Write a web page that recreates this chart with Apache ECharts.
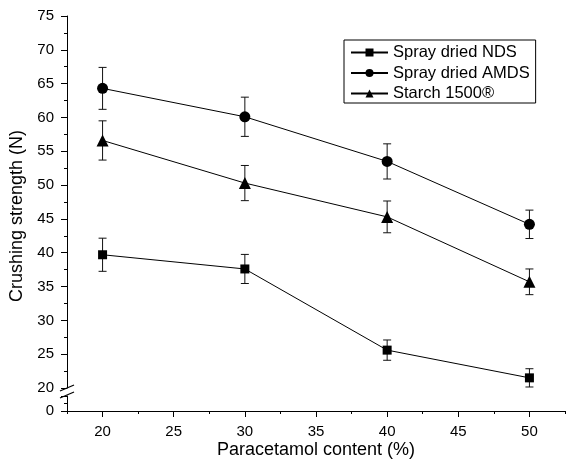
<!DOCTYPE html>
<html>
<head>
<meta charset="utf-8">
<script src="https://cdn.jsdelivr.net/npm/echarts@6/dist/echarts.min.js"></script>
<style>
  html, body { margin: 0; padding: 0; background: #fff; }
  #chart1 { width: 566px; height: 465px; }
</style>
</head>
<body>
<div id="chart1"></div>
<script>
var content = [20, 30, 40, 50];
var ndsVal = [39.7, 37.6, 25.6, 21.5];
var ndsErr = [2.45, 2.15, 1.5, 1.35];
var amdsVal = [64.3, 60.1, 53.5, 44.2];
var amdsErr = [3.1, 2.9, 2.6, 2.1];
var starchVal = [56.6, 50.3, 45.3, 35.7];
var starchErr = [2.9, 2.6, 2.35, 1.9];
var names = ['Spray dried NDS', 'Spray dried AMDS', 'Starch 1500®'];

var font = 'Liberation Sans, Arial, sans-serif';
var black = '#000';

function pts(vals) {
    return content.map(function(x, i) { return [x, vals[i]]; });
}
function bars(vals, errs) {
    return content.map(function(x, i) { return [x, vals[i] - errs[i], vals[i] + errs[i]]; });
}
// 误差棒
function errorSeries(vals, errs) {
    return {
        type: 'custom',
        xAxisIndex: 0,
        yAxisIndex: 0,
        z: 1,
        silent: true,
        renderItem: function(params, api) {
            var x = api.value(0);
            var lo = api.coord([x, api.value(1)]);
            var hi = api.coord([x, api.value(2)]);
            var w = 4;
            var st = { stroke: '#111', lineWidth: 1 };
            return {
                type: 'group',
                children: [
                    { type: 'line', shape: { x1: hi[0], y1: hi[1], x2: lo[0], y2: lo[1] }, style: st },
                    { type: 'line', shape: { x1: hi[0] - w, y1: hi[1], x2: hi[0] + w, y2: hi[1] }, style: st },
                    { type: 'line', shape: { x1: lo[0] - w, y1: lo[1], x2: lo[0] + w, y2: lo[1] }, style: st }
                ]
            };
        },
        data: bars(vals, errs)
    };
}
function lineSeries(name, vals, symbol, size) {
    return {
        name: name,
        type: 'line',
        xAxisIndex: 0,
        yAxisIndex: 0,
        z: 3,
        symbol: symbol,
        symbolSize: size,
        showAllSymbol: true,
        lineStyle: { color: black, width: 1 },
        itemStyle: { color: black, borderWidth: 0 },
        emphasis: { disabled: true },
        data: pts(vals)
    };
}

var option = {
    animation: false,
    textStyle: { fontFamily: font, color: black },
    legend: {
        left: 344,
        top: 40,
        orient: 'vertical',
        itemWidth: 37,
        itemHeight: 10,
        itemGap: 3.5,
        padding: [4, 6, 1, 6],
        borderColor: black,
        borderWidth: 1,
        borderRadius: 0,
        textStyle: { fontFamily: font, fontSize: 16.5, color: black },
        data: names
    },
    grid: [
        { left: 67, right: 1, top: 16, bottom: 77 },
        { left: 67, right: 1, top: 396, bottom: 54 }
    ],
    xAxis: [{
        gridIndex: 0,
        type: 'value',
        min: 17.5,
        max: 52.5,
        show: false
    }, {
        gridIndex: 1,
        type: 'value',
        position: 'bottom',
        min: 17.5,
        max: 52.5,
        splitNumber: 7,
        name: 'Paracetamol content (%)',
        nameLocation: 'middle',
        nameGap: 30,
        nameTextStyle: { fontFamily: font, fontSize: 18, color: black },
        axisLine: { lineStyle: { color: black, width: 1 } },
        axisTick: { show: true, length: 6, lineStyle: { color: black } },
        axisLabel: { fontFamily: font, fontSize: 15, color: black, margin: 13, showMinLabel: false, showMaxLabel: false },
        splitLine: { show: false }
    }, {
        gridIndex: 1,
        type: 'value',
        position: 'bottom',
        min: 17.5,
        max: 52.5,
        interval: 2.5,
        axisLine: { show: false },
        axisTick: { show: true, length: 3, lineStyle: { color: black } },
        axisLabel: { show: false },
        splitLine: { show: false }
    }],
    yAxis: [{
        gridIndex: 0,
        type: 'value',
        min: 20,
        max: 75,
        interval: 5,
        name: 'Crushing strength (N)',
        nameLocation: 'middle',
        nameGap: 40,
        nameTextStyle: { fontFamily: font, fontSize: 18, color: black, padding: [0, 28, 0, 0] },
        axisLine: { show: true, lineStyle: { color: black, width: 1 } },
        axisTick: { show: true, length: 6, lineStyle: { color: black } },
        minorTick: { show: true, splitNumber: 2, length: 3, lineStyle: { color: black } },
        axisLabel: { fontFamily: font, fontSize: 15, color: black, margin: 13 },
        splitLine: { show: false }
    }, {
        gridIndex: 1,
        type: 'value',
        min: 0,
        max: 2,
        interval: 2,
        axisLine: { show: true, lineStyle: { color: black, width: 1 } },
        axisTick: { show: true, length: 6, lineStyle: { color: black } },
        minorTick: { show: true, splitNumber: 2, length: 3, lineStyle: { color: black } },
        axisLabel: {
            fontFamily: font, fontSize: 15, color: black, margin: 13,
            formatter: function(v) { return v === 0 ? '0' : ''; }
        },
        splitLine: { show: false }
    }],
    // 断轴标记
    graphic: [
        { type: 'line', shape: { x1: 60, y1: 391, x2: 74, y2: 385 }, style: { stroke: black, lineWidth: 1.2 } },
        { type: 'line', shape: { x1: 60, y1: 398, x2: 74, y2: 392 }, style: { stroke: black, lineWidth: 1.2 } }
    ],
    series: [
        errorSeries(ndsVal, ndsErr),
        errorSeries(amdsVal, amdsErr),
        errorSeries(starchVal, starchErr),
        lineSeries(names[0], ndsVal, 'rect', 9),
        lineSeries(names[1], amdsVal, 'circle', 11),
        lineSeries(names[2], starchVal, 'triangle', 12)
    ]
};
var chart1 = echarts.init(document.getElementById('chart1'));
chart1.setOption(option);
window.onresize = function() {
    chart1.resize();
};
</script>
</body>
</html>
